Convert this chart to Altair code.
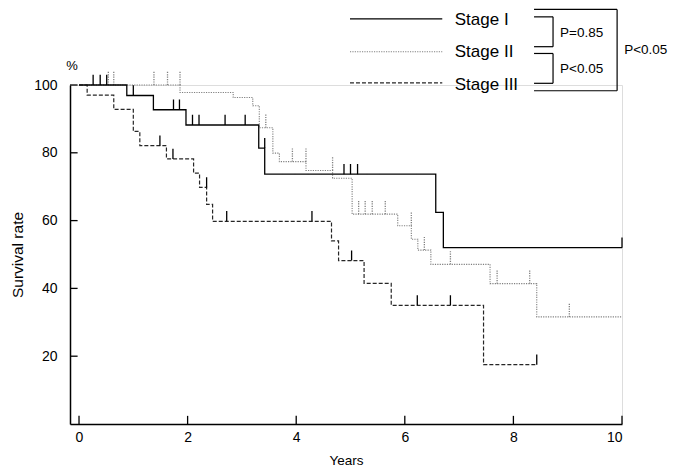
import altair as alt
import pandas as pd

# ---------------- data ----------------
stage_names = ["Stage I", "Stage II", "Stage III"]

# Kaplan-Meier step curves: time (years) and survival (%)
s1_time = [0, 0.88, 1.37, 1.97, 3.31, 3.42, 6.57, 6.71, 10.0]
s1_surv = [100, 96.9, 92.7, 88.2, 81.4, 73.7, 62.4, 52.0, 52.0]
s1_cens_time = [0.26, 0.39, 0.51, 1.0, 1.74, 1.85, 2.09, 2.21, 2.69, 3.06, 3.42, 4.88, 5.0, 5.13, 10.0]
s1_cens_surv = [100, 100, 100, 96.9, 92.7, 92.7, 88.2, 88.2, 88.2, 88.2, 81.4, 73.7, 73.7, 73.7, 52.0]

s2_time = [0, 1.86, 2.84, 3.2, 3.32, 3.57, 3.69, 4.18, 4.67, 5.03, 5.87, 6.12, 6.24, 6.48, 7.57, 8.43, 10.0]
s2_surv = [100, 97.8, 96.3, 93.9, 87.4, 79.9, 77.4, 74.8, 72.5, 61.9, 58.5, 54.5, 51.3, 47.1, 41.4, 31.6, 31.6]
s2_cens_time = [0.54, 0.64, 1.38, 1.63, 1.86, 3.44, 3.93, 4.18, 4.67, 5.15, 5.27, 5.40, 5.64, 6.12, 6.36, 6.84, 7.70, 8.30, 9.03]
s2_cens_surv = [100, 100, 100, 100, 100, 87.4, 77.4, 77.4, 74.8, 61.9, 61.9, 61.9, 61.9, 58.5, 51.3, 47.1, 41.4, 41.4, 31.6]

s3_time = [0, 0.15, 0.64, 1.0, 1.12, 1.61, 2.11, 2.22, 2.35, 2.46, 4.65, 4.78, 5.25, 5.75, 7.45, 8.43]
s3_surv = [100, 97.0, 92.8, 86.3, 82.1, 78.2, 74.0, 69.8, 64.8, 59.8, 54.0, 48.2, 41.5, 35.0, 17.5, 17.5]
s3_cens_time = [1.49, 1.73, 2.35, 2.72, 4.29, 5.02, 6.23, 6.84, 8.43]
s3_cens_surv = [82.1, 78.2, 69.8, 59.8, 59.8, 48.2, 35.0, 35.0, 17.5]

x_tick_values = [0, 2, 4, 6, 8, 10]
y_tick_values = [20, 40, 60, 80, 100]

p_labels = ["P=0.85", "P<0.05", "P<0.05"]

# ---------------- styling ----------------
FONT = "Liberation Sans"
X_MIN, X_MAX = -0.166, 10
styles = [
    dict(color="#000000", dash=[1, 0], width=1.3, cens_dash=[1, 0], cens_color="#000000", cens_h=3.0),
    dict(color="#808080", dash=[1.2, 1.2], width=1.1, cens_dash=[1.2, 1.2], cens_color="#808080", cens_h=4.1),
    dict(color="#262626", dash=[4, 2], width=1.2, cens_dash=[1, 0], cens_color="#000000", cens_h=3.0),
]

xscale = alt.Scale(domain=[X_MIN, X_MAX], nice=False, zero=False)
yscale = alt.Scale(domain=[0, 100], nice=False, zero=False)


def X(field, axis=None):
    if axis is None:
        return alt.X(field, type="quantitative", scale=xscale)
    return alt.X(field, type="quantitative", scale=xscale, axis=axis)


def Y(field, axis=None):
    if axis is None:
        return alt.Y(field, type="quantitative", scale=yscale)
    return alt.Y(field, type="quantitative", scale=yscale, axis=axis)


curves = [(s1_time, s1_surv), (s2_time, s2_surv), (s3_time, s3_surv)]
censors = [(s1_cens_time, s1_cens_surv), (s2_cens_time, s2_cens_surv), (s3_cens_time, s3_cens_surv)]

layers = []

# axes (domain lines + labels), ticks drawn inward as rules
x_axis = alt.Axis(values=x_tick_values, ticks=False, grid=False, domain=True, domainColor="#000",
                  domainWidth=1.5, labelFont=FONT, labelFontSize=14, labelColor="#000", labelPadding=6,
                  title="Years", titleFont=FONT, titleFontSize=13.5, titleFontWeight="normal",
                  titleColor="#000", titlePadding=9)
y_axis = alt.Axis(values=y_tick_values, ticks=False, grid=False, domain=True, domainColor="#000",
                  domainWidth=1.5, labelFont=FONT, labelFontSize=14, labelColor="#000", labelPadding=13,
                  title="Survival rate", titleFont=FONT, titleFontSize=15.5, titleFontWeight="normal",
                  titleColor="#000", titlePadding=8)

xt = pd.DataFrame({"v": x_tick_values})
layers.append(
    alt.Chart(xt).transform_calculate(y0="0", y1="2.4")
    .mark_rule(color="#000", strokeWidth=1.3)
    .encode(x=X("v:Q", x_axis), y=Y("y0:Q", y_axis), y2="y1:Q")
)
yt = pd.DataFrame({"v": y_tick_values})
layers.append(
    alt.Chart(yt).transform_calculate(x0=str(X_MIN), x1=str(X_MIN + 0.14))
    .mark_rule(color="#000", strokeWidth=1.3)
    .encode(x=X("x0:Q"), x2="x1:Q", y=Y("v:Q"))
)

# curves (drawn III, II, I so Stage I is on top)
for i in [2, 1, 0]:
    t, s = curves[i]
    st = styles[i]
    df = pd.DataFrame({"t": t, "s": s})
    layers.append(
        alt.Chart(df).mark_line(interpolate="step-after", color=st["color"], strokeDash=st["dash"],
                                strokeWidth=st["width"])
        .encode(x=X("t:Q"), y=Y("s:Q"), order="t:Q")
    )
    ct, cs = censors[i]
    cdf = pd.DataFrame({"t": ct, "s": cs})
    layers.append(
        alt.Chart(cdf).transform_calculate(top=f"datum.s + {st['cens_h']}")
        .mark_rule(color=st["cens_color"], strokeDash=st["cens_dash"], strokeWidth=1.3)
        .encode(x=X("t:Q"), y=Y("s:Q"), y2="top:Q")
    )

# legend (placed in data units above the plot)
leg_line_y = [119.5, 109.8, 100.6]
leg_text_y = [119.2, 109.6, 99.9]
for i in range(3):
    st = styles[i]
    ldf = pd.DataFrame({"x0": [4.99], "x1": [6.69], "y": [leg_line_y[i]]})
    layers.append(
        alt.Chart(ldf).mark_rule(color=st["color"], strokeDash=st["dash"], strokeWidth=st["width"])
        .encode(x=X("x0:Q"), x2="x1:Q", y=Y("y:Q"))
    )
tdf = pd.DataFrame({"label": stage_names, "x": [6.92] * 3, "y": leg_text_y})
layers.append(
    alt.Chart(tdf).mark_text(align="left", baseline="middle", font=FONT, fontSize=17, color="#000")
    .encode(x=X("x:Q"), y=Y("y:Q"), text="label:N")
)

# brackets
bx0, bx1, bx2 = 8.38, 8.73, 9.91
segs = [
    # inner bracket I vs II
    (bx0, bx1, 120.1, 120.1), (bx1, bx1, 120.1, 111.3), (bx0, bx1, 111.3, 111.3),
    # inner bracket II vs III
    (bx0, bx1, 109.3, 109.3), (bx1, bx1, 109.3, 100.5), (bx0, bx1, 100.5, 100.5),
    # outer bracket I vs III
    (bx0, bx2, 122.3, 122.3), (bx2, bx2, 122.3, 98.3), (bx0, bx2, 98.3, 98.3),
]
bdf = pd.DataFrame(segs, columns=["x0", "x1", "y0", "y1"])
layers.append(
    alt.Chart(bdf).mark_rule(color="#000", strokeWidth=1.2)
    .encode(x=X("x0:Q"), x2="x1:Q", y=Y("y0:Q"), y2="y1:Q")
)
pdf = pd.DataFrame({"label": p_labels, "x": [8.86, 8.86, 10.04], "y": [115.3, 104.6, 110.2]})
layers.append(
    alt.Chart(pdf).mark_text(align="left", baseline="middle", font=FONT, fontSize=13.5, color="#000")
    .encode(x=X("x:Q"), y=Y("y:Q"), text="label:N")
)

# "%" unit mark above the y axis
udf = pd.DataFrame({"label": ["%"], "x": [-0.13], "y": [105.6]})
layers.append(
    alt.Chart(udf).mark_text(align="center", baseline="middle", font=FONT, fontSize=13, color="#000")
    .encode(x=X("x:Q"), y=Y("y:Q"), text="label:N")
)

chart = alt.layer(*layers).properties(
    width=552, height=339,
    autosize=alt.AutoSizeParams(type="none"),
    padding={"left": 62, "top": 77, "right": 47, "bottom": 42},
).configure_view(stroke=None).configure(background="white")

chart.save("out.html", embed_options={"renderer": "svg", "actions": False})
